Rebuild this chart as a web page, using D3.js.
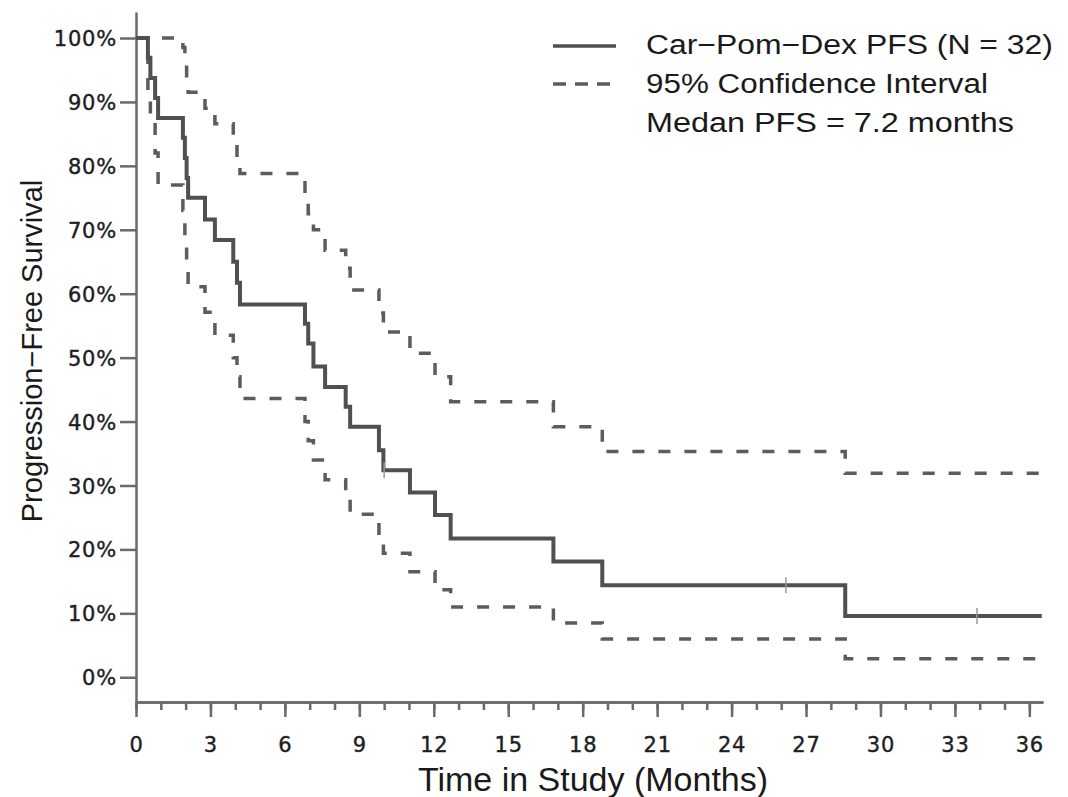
<!DOCTYPE html>
<html>
<head>
<meta charset="utf-8">
<script src="https://cdn.jsdelivr.net/npm/d3@7"></script>
<style>
  body { margin: 0; background: #fff; }
  svg { display: block; }
</style>
</head>
<body>
<svg id="chart" width="1068" height="797"></svg>
<script>
// Kaplan-Meier progression-free survival, Car-Pom-Dex cohort (N = 32)
const eventTimes = [0, 0.48, 0.58, 0.77, 0.89, 1.89, 1.97, 2.04, 2.10, 2.78, 3.18, 3.92, 4.07, 4.19,
                    6.81, 6.94, 7.15, 7.62, 8.45, 8.63, 9.79, 9.97, 11.04, 12.05, 12.68, 16.82, 18.79, 28.58];
const survival   = [1.0, 0.969, 0.9375, 0.906, 0.875, 0.844, 0.8125, 0.781, 0.75, 0.716, 0.684, 0.65, 0.617, 0.583,
                    0.553, 0.522, 0.486, 0.454, 0.423, 0.392, 0.355, 0.324, 0.289, 0.254, 0.217, 0.181, 0.144, 0.096];
const upperCI    = [1.0, 1.0, 1.0, 1.0, 1.0, 0.985, 0.96, 0.935, 0.915, 0.89, 0.866, 0.835, 0.81, 0.788,
                    0.75, 0.725, 0.70, 0.668, 0.64, 0.606, 0.57, 0.54, 0.507, 0.47, 0.431, 0.392, 0.353, 0.319];
const lowerCI    = [1.0, 0.91, 0.87, 0.82, 0.77, 0.73, 0.69, 0.65, 0.611, 0.571, 0.535, 0.50, 0.47, 0.436,
                    0.40, 0.37, 0.34, 0.309, 0.28, 0.255, 0.22, 0.194, 0.165, 0.137, 0.11, 0.085, 0.06, 0.029];
const censorTimes = [10.0, 26.19, 33.89];
const followUpEnd = 36.5;

const xMajorTicks = [0, 3, 6, 9, 12, 15, 18, 21, 24, 27, 30, 33, 36];
const xMinorTicks = d3.range(0, 37, 1);
const yTicks = [0, 0.1, 0.2, 0.3, 0.4, 0.5, 0.6, 0.7, 0.8, 0.9, 1.0];

const legendLabels = ["Car\u2212Pom\u2212Dex PFS (N = 32)", "95% Confidence Interval", "Medan PFS = 7.2 months"];

const svg = d3.select("#chart");
const axisColor = "#6a6a6a";
const curveColor = "#505050";
const ciColor = "#5c5c5c";

const x = d3.scaleLinear().domain([0, 36.55]).range([136, 1043]);
const y = d3.scaleLinear().domain([-0.0387, 1.0407]).range([702, 12]);

// ---- axes ----
const yAxis = svg.append("g")
  .attr("transform", `translate(${x(0)},0)`)
  .call(d3.axisLeft(y).tickValues(yTicks).tickSize(16).tickSizeOuter(0).tickPadding(3)
        .tickFormat(d3.format(".0%")));

const xMinor = svg.append("g")
  .attr("transform", `translate(0,${y.range()[0]})`)
  .call(d3.axisBottom(x).tickValues(xMinorTicks).tickSize(8).tickSizeOuter(0).tickFormat(""));

const xAxis = svg.append("g")
  .attr("transform", `translate(0,${y.range()[0]})`)
  .call(d3.axisBottom(x).tickValues(xMajorTicks).tickSize(15).tickSizeOuter(0).tickPadding(20)
        .tickFormat(d3.format("d")));

[yAxis, xMinor, xAxis].forEach(g => {
  g.selectAll("path.domain").attr("stroke", axisColor).attr("stroke-width", 2.5);
  g.selectAll(".tick line").attr("stroke", axisColor).attr("stroke-width", 2.5);
  g.selectAll(".tick text")
    .attr("fill", "#1e1e1e")
    .attr("stroke", "#1e1e1e")
    .attr("stroke-width", 0.4)
    .style("font-family", "'DejaVu Sans', sans-serif")
    .style("font-size", "21px")
    .style("letter-spacing", "0.8px");
});
yAxis.selectAll(".tick text").attr("dy", "0.36em");

// axis titles
svg.append("text")
  .attr("x", 593).attr("y", 791)
  .attr("text-anchor", "middle")
  .attr("fill", "#1a1a1a")
  .style("font-family", "'Liberation Sans', Arial, sans-serif")
  .style("font-size", "34px")
  .text("Time in Study (Months)");

svg.append("text")
  .attr("transform", "translate(42,351) rotate(-90)")
  .attr("text-anchor", "middle")
  .attr("fill", "#1a1a1a")
  .style("font-family", "'Liberation Sans', Arial, sans-serif")
  .style("font-size", "29px")
  .text("Progression\u2212Free Survival");

// ---- survival curves ----
function stepPoints(values) {
  const pts = eventTimes.map((t, i) => [t, values[i]]);
  pts.push([followUpEnd, values[values.length - 1]]);
  return pts;
}

const stepLine = d3.line()
  .x(d => x(d[0]))
  .y(d => y(d[1]))
  .curve(d3.curveStepAfter);

[upperCI, lowerCI].forEach(series => {
  svg.append("path")
    .datum(stepPoints(series))
    .attr("d", stepLine)
    .attr("fill", "none")
    .attr("stroke", ciColor)
    .attr("stroke-width", 3.5)
    .attr("stroke-dasharray", "12 14");
});

svg.append("path")
  .datum(stepPoints(survival))
  .attr("d", stepLine)
  .attr("fill", "none")
  .attr("stroke", curveColor)
  .attr("stroke-width", 4);

// censored observations
function survivalAt(t) {
  const i = d3.bisectRight(eventTimes, t) - 1;
  return survival[Math.max(0, i)];
}
svg.append("g").selectAll("line")
  .data(censorTimes)
  .join("line")
  .attr("x1", d => x(d)).attr("x2", d => x(d))
  .attr("y1", d => y(survivalAt(d)) - 8)
  .attr("y2", d => y(survivalAt(d)) + 8)
  .attr("stroke", "#9a9a9a")
  .attr("stroke-width", 1.5);

// ---- legend ----
const legend = svg.append("g");
legend.append("line")
  .attr("x1", 553).attr("x2", 616).attr("y1", 46).attr("y2", 46)
  .attr("stroke", curveColor).attr("stroke-width", 3.5);
legend.append("line")
  .attr("x1", 553).attr("x2", 616).attr("y1", 84).attr("y2", 84)
  .attr("stroke", ciColor).attr("stroke-width", 3.5)
  .attr("stroke-dasharray", "13 9");

const legendWidths = [407, 342, 368];
legend.selectAll("text")
  .data(legendLabels)
  .join("text")
  .attr("x", 646)
  .attr("y", (d, i) => 54 + i * 38.8)
  .attr("fill", "#1a1a1a")
  .attr("textLength", (d, i) => legendWidths[i])
  .attr("lengthAdjust", "spacingAndGlyphs")
  .style("font-family", "'Liberation Sans', Arial, sans-serif")
  .style("font-size", "27px")
  .text(d => d);
</script>
</body>
</html>
